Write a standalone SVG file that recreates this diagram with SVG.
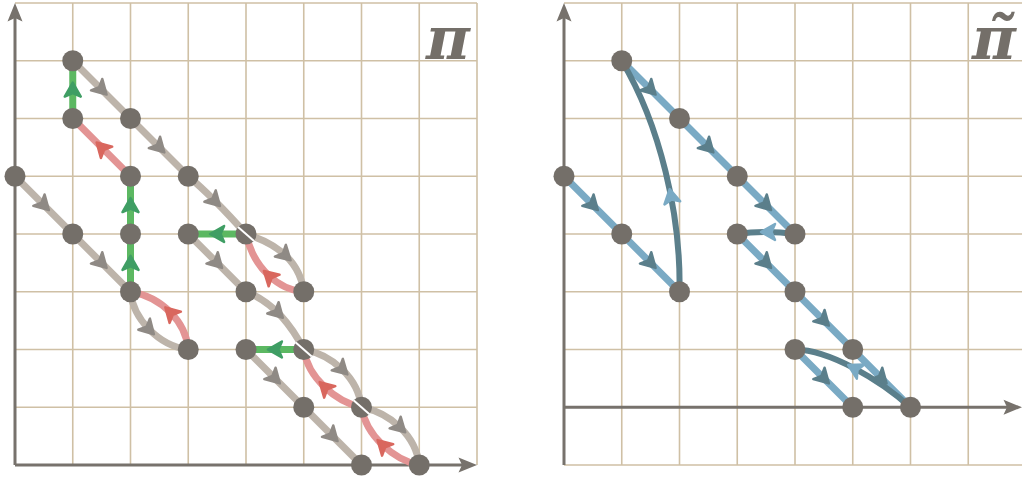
<svg xmlns="http://www.w3.org/2000/svg" width="1022" height="480" viewBox="0 0 1022 480">
<style>
.grid{stroke:#cfc0a5;stroke-width:1.6;fill:none}
.axis{stroke:#77726c;stroke-width:3;fill:none}
.axh{fill:#77726c}
.e{fill:none;stroke-width:7;stroke-linecap:round}
.eg{stroke:#bdb4aa}
.er{stroke:#e39494}
.en{stroke:#5cb862}
.eb{stroke:#7aaac4}
.ed{stroke:#5b7f8b;stroke-width:6}
.ah{stroke-width:2.5;stroke-linejoin:round}
.ag{fill:#8f8a85;stroke:#8f8a85}
.ar{fill:#d9675e;stroke:#d9675e}
.an{fill:#3f9e64;stroke:#3f9e64}
.ab{fill:#5b7f8b;stroke:#5b7f8b}
.ad{fill:#7aaac4;stroke:#7aaac4}
.node{fill:#746f69}
.slash{stroke:#fff;stroke-width:2}
.pi{font-family:"DejaVu Serif",serif;font-style:italic;font-weight:bold;font-size:60px;fill:#746f69}
</style>
<defs>
<path id="arr" d="M7,0 L-7,-8 L-3.5,0 L-7,8 Z"/>
</defs>
<rect width="1022" height="480" fill="#fff"/>
<g id="leftGrid" class="grid">
<path d="M72.75,3V465M130.5,3V465M188.25,3V465M246,3V465M303.75,3V465M361.5,3V465M419.25,3V465M477,3V465"/>
<path d="M15,3H477M15,60.75H477M15,118.5H477M15,176.25H477M15,234H477M15,291.75H477M15,349.5H477M15,407.25H477"/>
</g>
<g id="leftAxes">
<path class="axis" d="M15,465V14M15,465H468"/>
<path class="axh" d="M15,3 L22.5,21.5 L15,18 L7.5,21.5 Z"/>
<path class="axh" d="M477,465 L458.5,457.5 L462,465 L458.5,472.5 Z"/>
</g>
<g id="rightGrid" class="grid">
<path d="M621.75,3V465M679.5,3V465M737.25,3V465M795,3V465M852.75,3V465M910.5,3V465M968.25,3V465"/>
<path d="M564,3H1022M564,60.75H1022M564,118.5H1022M564,176.25H1022M564,234H1022M564,291.75H1022M564,349.5H1022M564,465H1022"/>
</g>
<g id="rightAxes">
<path class="axis" d="M564,465V14M564,407.25H1012"/>
<path class="axh" d="M564,3 L571.5,21.5 L564,18 L556.5,21.5 Z"/>
<path class="axh" d="M1022,407.25 L1003.5,399.75 L1007,407.25 L1003.5,414.75 Z"/>
</g>
<text class="pi" x="426" y="59">π</text>
<text class="pi" x="972" y="59">π̃</text>
<g id="connectors">
<g id="leftEdges">
<path class="e eg" d="M72.75,60.75L130.5,118.5"/>
<path class="e eg" d="M130.5,118.5L188.25,176.25"/>
<path class="e eg" d="M188.25,176.25Q213,197 246,234"/>
<path class="e eg" d="M246,234C278,244 300,262 303.75,291.75"/>
<path class="e eg" d="M15,176.25L72.75,234"/>
<path class="e eg" d="M72.75,234L130.5,291.75"/>
<path class="e eg" d="M130.5,291.75C133,318 158,346 188.25,349.5"/>
<path class="e eg" d="M188.25,234L246,291.75"/>
<path class="e eg" d="M246,291.75Q281,305 303.75,349.5"/>
<path class="e eg" d="M303.75,349.5C333,355 358,378 361.5,407.25"/>
<path class="e eg" d="M361.5,407.25C391,413 416,436 419.25,465"/>
<path class="e eg" d="M246,349.5L303.75,407.25"/>
<path class="e eg" d="M303.75,407.25L361.5,465"/>
<path class="e er" d="M130.5,176.25L72.75,118.5"/>
<path class="e er" d="M188.25,349.5C186,322 162,297 130.5,291.75"/>
<path class="e er" d="M303.75,291.75C280,290 254,270 246,234"/>
<path class="e er" d="M361.5,407.25C336,402 308,378 303.75,349.5"/>
<path class="e er" d="M419.25,465C394,460 366,436 361.5,407.25"/>
<path class="e en" d="M72.75,118.5V60.75"/>
<path class="e en" d="M130.5,234V176.25"/>
<path class="e en" d="M130.5,291.75V234"/>
<path class="e en" d="M246,234H188.25"/>
<path class="e en" d="M303.75,349.5H246"/>
</g>
<g id="rightEdges">
<path class="e eb" d="M621.75,60.75L679.5,118.5L737.25,176.25L795,234"/>
<path class="e eb" d="M564,176.25L621.75,234L679.5,291.75"/>
<path class="e eb" d="M737.25,234L795,291.75L852.75,349.5L910.5,407.25"/>
<path class="e eb" d="M795,349.5L852.75,407.25"/>
<path class="e ed" d="M679.5,291.75C681,215 660,125 621.75,60.75"/>
<path class="e ed" d="M795,234Q766,230 737.25,234"/>
<path class="e ed" d="M910.5,407.25C880,380 830,350 795,349.5"/>
</g>
</g>
<g id="L11"><circle class="node" cx="72.75" cy="60.75" r="10.5"/></g>
<g id="L12"><circle class="node" cx="72.75" cy="118.5" r="10.5"/></g>
<g id="L22"><circle class="node" cx="130.5" cy="118.5" r="10.5"/></g>
<g id="L03"><circle class="node" cx="15" cy="176.25" r="10.5"/></g>
<g id="L23"><circle class="node" cx="130.5" cy="176.25" r="10.5"/></g>
<g id="L33"><circle class="node" cx="188.25" cy="176.25" r="10.5"/></g>
<g id="L14"><circle class="node" cx="72.75" cy="234" r="10.5"/></g>
<g id="L24"><circle class="node" cx="130.5" cy="234" r="10.5"/></g>
<g id="L34"><circle class="node" cx="188.25" cy="234" r="10.5"/></g>
<g id="L44"><circle class="node" cx="246" cy="234" r="10.5"/><path class="slash" d="M238,227L254,241"/></g>
<g id="L25"><circle class="node" cx="130.5" cy="291.75" r="10.5"/></g>
<g id="L45"><circle class="node" cx="246" cy="291.75" r="10.5"/></g>
<g id="L55"><circle class="node" cx="303.75" cy="291.75" r="10.5"/></g>
<g id="L36"><circle class="node" cx="188.25" cy="349.5" r="10.5"/></g>
<g id="L46"><circle class="node" cx="246" cy="349.5" r="10.5"/></g>
<g id="L56"><circle class="node" cx="303.75" cy="349.5" r="10.5"/><path class="slash" d="M295.75,342.5L311.75,356.5"/></g>
<g id="L57"><circle class="node" cx="303.75" cy="407.25" r="10.5"/></g>
<g id="L67"><circle class="node" cx="361.5" cy="407.25" r="10.5"/><path class="slash" d="M353.5,400.25L369.5,414.25"/></g>
<g id="L68"><circle class="node" cx="361.5" cy="465" r="10.5"/></g>
<g id="L78"><circle class="node" cx="419.25" cy="465" r="10.5"/></g>
<g id="R11"><circle class="node" cx="621.75" cy="60.75" r="10.5"/></g>
<g id="R22"><circle class="node" cx="679.5" cy="118.5" r="10.5"/></g>
<g id="R03"><circle class="node" cx="564" cy="176.25" r="10.5"/></g>
<g id="R33"><circle class="node" cx="737.25" cy="176.25" r="10.5"/></g>
<g id="R14"><circle class="node" cx="621.75" cy="234" r="10.5"/></g>
<g id="R34"><circle class="node" cx="737.25" cy="234" r="10.5"/></g>
<g id="R44"><circle class="node" cx="795" cy="234" r="10.5"/></g>
<g id="R25"><circle class="node" cx="679.5" cy="291.75" r="10.5"/></g>
<g id="R45"><circle class="node" cx="795" cy="291.75" r="10.5"/></g>
<g id="R46"><circle class="node" cx="795" cy="349.5" r="10.5"/></g>
<g id="R56"><circle class="node" cx="852.75" cy="349.5" r="10.5"/></g>
<g id="R57"><circle class="node" cx="852.75" cy="407.25" r="10.5"/></g>
<g id="R67"><circle class="node" cx="910.5" cy="407.25" r="10.5"/></g>
<g id="arrowheads" class="ah">
<use href="#arr" class="ag" transform="translate(101.6,89.6) rotate(45)"/>
<use href="#arr" class="ag" transform="translate(159.4,147.4) rotate(45)"/>
<use href="#arr" class="ag" transform="translate(215,201) rotate(45)"/>
<use href="#arr" class="ag" transform="translate(285.5,255.5) rotate(43)"/>
<use href="#arr" class="ag" transform="translate(43.9,205.1) rotate(45)"/>
<use href="#arr" class="ag" transform="translate(101.6,262.9) rotate(45)"/>
<use href="#arr" class="ag" transform="translate(149,329.2) rotate(46)"/>
<use href="#arr" class="ag" transform="translate(217.1,262.9) rotate(45)"/>
<use href="#arr" class="ag" transform="translate(277.9,312.8) rotate(45)"/>
<use href="#arr" class="ag" transform="translate(342.3,369.5) rotate(44)"/>
<use href="#arr" class="ag" transform="translate(400.2,427.4) rotate(44)"/>
<use href="#arr" class="ag" transform="translate(274.9,378.4) rotate(45)"/>
<use href="#arr" class="ag" transform="translate(332.6,436.1) rotate(45)"/>
<use href="#arr" class="ar" transform="translate(101.6,147.4) rotate(-135)"/>
<use href="#arr" class="ar" transform="translate(170.3,312.3) rotate(-135)"/>
<use href="#arr" class="ar" transform="translate(269,275.7) rotate(-137)"/>
<use href="#arr" class="ar" transform="translate(324.7,387) rotate(-136)"/>
<use href="#arr" class="ar" transform="translate(382.6,445) rotate(-136)"/>
<use href="#arr" class="an" transform="translate(72.75,89.6) rotate(-90)"/>
<use href="#arr" class="an" transform="translate(130.5,205.1) rotate(-90)"/>
<use href="#arr" class="an" transform="translate(130.5,262.9) rotate(-90)"/>
<use href="#arr" class="an" transform="translate(217.1,234) rotate(180)"/>
<use href="#arr" class="an" transform="translate(274.9,349.5) rotate(180)"/>
<use href="#arr" class="ab" transform="translate(650.6,89.6) rotate(45)"/>
<use href="#arr" class="ab" transform="translate(708.4,147.4) rotate(45)"/>
<use href="#arr" class="ab" transform="translate(766.1,205.1) rotate(45)"/>
<use href="#arr" class="ab" transform="translate(592.9,205.1) rotate(45)"/>
<use href="#arr" class="ab" transform="translate(650.6,262.9) rotate(45)"/>
<use href="#arr" class="ab" transform="translate(766.1,262.9) rotate(45)"/>
<use href="#arr" class="ab" transform="translate(823.9,320.6) rotate(45)"/>
<use href="#arr" class="ab" transform="translate(881.6,378.4) rotate(45)"/>
<use href="#arr" class="ab" transform="translate(823.9,378.4) rotate(45)"/>
<use href="#arr" class="ad" transform="translate(671,196) rotate(-101)"/>
<use href="#arr" class="ad" transform="translate(768,232) rotate(180)"/>
<use href="#arr" class="ad" transform="translate(854.4,368.3) rotate(-152)"/>
</g>
</svg>
